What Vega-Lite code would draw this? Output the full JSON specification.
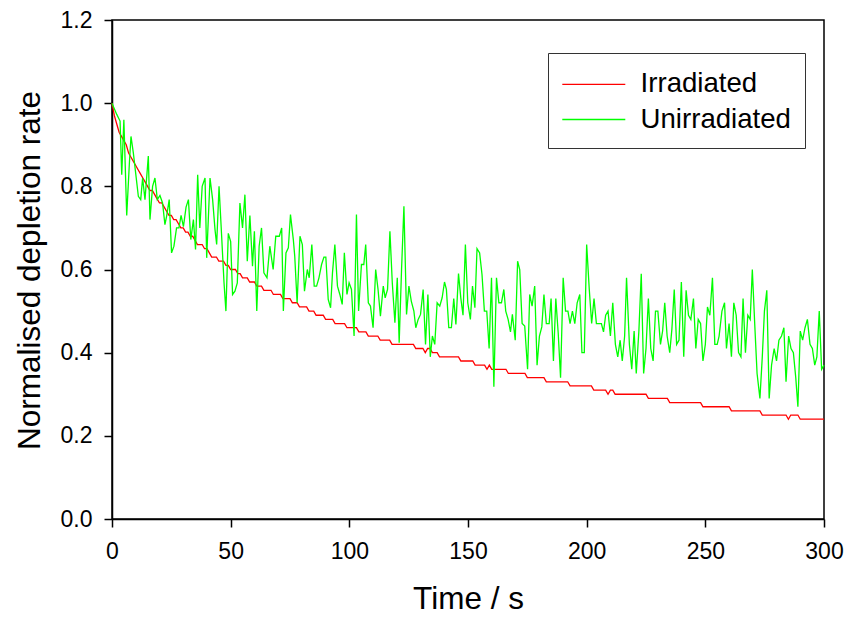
{
  "$schema": "https://vega.github.io/schema/vega-lite/v6.json",
  "autosize": {"type": "none"},
  "padding": {"left": 112, "top": 20, "right": 25, "bottom": 98},
  "width": 712,
  "height": 499,
  "background": "white",
  "config": {
    "view": {"stroke": "black", "strokeWidth": 1.5},
    "axis": {
      "domainColor": "black", "domainWidth": 1.5,
      "tickColor": "black", "tickWidth": 1.5, "tickSize": 8,
      "labelFont": "Liberation Sans", "labelFontSize": 23, "labelColor": "black",
      "titleFont": "Liberation Sans", "titleFontSize": 31.5, "titleFontWeight": "normal", "titleColor": "black",
      "grid": false
    },
    "legend": {
      "orient": "none", "legendX": 436, "legendY": 33,
      "strokeColor": "#333333", "fillColor": "white", "padding": 14,
      "symbolType": "M-1.286,0H4.714", "symbolSize": 441, "symbolStrokeWidth": 1.3,
      "labelFont": "Liberation Sans", "labelFontSize": 27.6, "labelColor": "black",
      "labelOffset": 51, "rowPadding": 6.1,
      "titleFontSize": 1, "titlePadding": 2.6, "titleColor": "white"
    }
  },
  "datasets": {
    "irradiated": [
      {"t":0,"v":1.00},{"t":1,"v":0.97},{"t":2,"v":0.95},{"t":3,"v":0.93},{"t":4,"v":0.92},{"t":5,"v":0.91},{"t":6,"v":0.90},{"t":7,"v":0.88},{"t":8,"v":0.87},{"t":9,"v":0.86},{"t":10,"v":0.85},{"t":11,"v":0.84},{"t":12,"v":0.83},{"t":13,"v":0.82},{"t":14,"v":0.81},{"t":15,"v":0.80},{"t":16,"v":0.79},{"t":17,"v":0.79},{"t":18,"v":0.78},{"t":19,"v":0.77},{"t":20,"v":0.76},{"t":21,"v":0.76},{"t":22,"v":0.75},{"t":23,"v":0.74},{"t":24,"v":0.73},{"t":25,"v":0.73},{"t":26,"v":0.72},{"t":27,"v":0.72},{"t":28,"v":0.71},{"t":29,"v":0.70},{"t":30,"v":0.70},{"t":31,"v":0.69},{"t":32,"v":0.69},{"t":33,"v":0.68},{"t":34,"v":0.68},{"t":35,"v":0.67},{"t":36,"v":0.66},{"t":38,"v":0.66},{"t":39,"v":0.65},{"t":40,"v":0.65},{"t":41,"v":0.64},{"t":42,"v":0.63},{"t":44,"v":0.63},{"t":45,"v":0.62},{"t":47,"v":0.62},{"t":48,"v":0.61},{"t":49,"v":0.61},{"t":50,"v":0.60},{"t":52,"v":0.60},{"t":53,"v":0.59},{"t":54,"v":0.59},{"t":55,"v":0.58},{"t":57,"v":0.58},{"t":58,"v":0.57},{"t":60,"v":0.57},{"t":61,"v":0.56},{"t":63,"v":0.56},{"t":64,"v":0.55},{"t":67,"v":0.55},{"t":68,"v":0.54},{"t":71,"v":0.54},{"t":72,"v":0.53},{"t":75,"v":0.53},{"t":76,"v":0.52},{"t":78,"v":0.52},{"t":79,"v":0.51},{"t":82,"v":0.51},{"t":83,"v":0.50},{"t":85,"v":0.50},{"t":86,"v":0.49},{"t":89,"v":0.49},{"t":90,"v":0.48},{"t":93,"v":0.48},{"t":94,"v":0.47},{"t":98,"v":0.47},{"t":99,"v":0.46},{"t":103,"v":0.46},{"t":104,"v":0.45},{"t":107,"v":0.45},{"t":108,"v":0.44},{"t":112,"v":0.44},{"t":113,"v":0.43},{"t":117,"v":0.43},{"t":118,"v":0.42},{"t":127,"v":0.42},{"t":128,"v":0.41},{"t":131,"v":0.41},{"t":132,"v":0.40},{"t":133,"v":0.41},{"t":134,"v":0.41},{"t":135,"v":0.40},{"t":137,"v":0.40},{"t":138,"v":0.39},{"t":146,"v":0.39},{"t":147,"v":0.38},{"t":152,"v":0.38},{"t":153,"v":0.37},{"t":157,"v":0.37},{"t":158,"v":0.36},{"t":159,"v":0.37},{"t":160,"v":0.36},{"t":166,"v":0.36},{"t":167,"v":0.35},{"t":174,"v":0.35},{"t":175,"v":0.34},{"t":182,"v":0.34},{"t":183,"v":0.33},{"t":192,"v":0.33},{"t":193,"v":0.32},{"t":202,"v":0.32},{"t":203,"v":0.31},{"t":208,"v":0.31},{"t":209,"v":0.30},{"t":210,"v":0.31},{"t":211,"v":0.31},{"t":212,"v":0.30},{"t":225,"v":0.30},{"t":226,"v":0.29},{"t":234,"v":0.29},{"t":235,"v":0.28},{"t":248,"v":0.28},{"t":249,"v":0.27},{"t":260,"v":0.27},{"t":261,"v":0.26},{"t":273,"v":0.26},{"t":274,"v":0.25},{"t":284,"v":0.25},{"t":285,"v":0.24},{"t":286,"v":0.25},{"t":289,"v":0.25},{"t":290,"v":0.24},{"t":300,"v":0.24}
    ],
    "unirradiated": [
      {"t":0,"v":1.0},{"t":2,"v":0.973},{"t":3.4,"v":0.957},{"t":4.1,"v":0.828},{"t":5,"v":0.96},{"t":6.2,"v":0.73},{"t":7.3,"v":0.853},{"t":8,"v":0.92},{"t":9,"v":0.88},{"t":11.1,"v":0.776},{"t":12.1,"v":0.768},{"t":12.9,"v":0.82},{"t":13.9,"v":0.768},{"t":15.3,"v":0.873},{"t":16,"v":0.72},{"t":17.1,"v":0.8},{"t":18.1,"v":0.82},{"t":19.1,"v":0.768},{"t":20.2,"v":0.778},{"t":21.3,"v":0.76},{"t":22.3,"v":0.708},{"t":23,"v":0.728},{"t":24.1,"v":0.768},{"t":25.1,"v":0.64},{"t":26.1,"v":0.656},{"t":27.2,"v":0.7},{"t":28.2,"v":0.7},{"t":29.1,"v":0.73},{"t":30.1,"v":0.703},{"t":31.2,"v":0.75},{"t":32.2,"v":0.768},{"t":33.2,"v":0.672},{"t":34.3,"v":0.72},{"t":35.2,"v":0.648},{"t":36.1,"v":0.828},{"t":37,"v":0.7},{"t":38,"v":0.8},{"t":39.2,"v":0.82},{"t":39.9,"v":0.628},{"t":41.3,"v":0.82},{"t":42.4,"v":0.768},{"t":43.4,"v":0.696},{"t":44.1,"v":0.66},{"t":45.1,"v":0.8},{"t":46.2,"v":0.68},{"t":47.2,"v":0.568},{"t":48,"v":0.5},{"t":49,"v":0.687},{"t":50,"v":0.667},{"t":50.8,"v":0.54},{"t":51.8,"v":0.548},{"t":52.8,"v":0.568},{"t":53.9,"v":0.76},{"t":55,"v":0.7},{"t":56,"v":0.78},{"t":57,"v":0.62},{"t":58.1,"v":0.73},{"t":59.2,"v":0.608},{"t":60,"v":0.692},{"t":61,"v":0.5},{"t":62,"v":0.656},{"t":63,"v":0.7},{"t":64,"v":0.592},{"t":65.3,"v":0.58},{"t":66.5,"v":0.656},{"t":67.9,"v":0.6},{"t":69,"v":0.68},{"t":70.5,"v":0.68},{"t":71.5,"v":0.7},{"t":72.2,"v":0.5},{"t":73.3,"v":0.64},{"t":74.3,"v":0.652},{"t":75.2,"v":0.732},{"t":76.4,"v":0.672},{"t":77,"v":0.632},{"t":78,"v":0.52},{"t":79.2,"v":0.68},{"t":80.2,"v":0.66},{"t":81.1,"v":0.548},{"t":82.3,"v":0.6},{"t":83.1,"v":0.58},{"t":84.2,"v":0.66},{"t":85.2,"v":0.56},{"t":86.2,"v":0.56},{"t":87.2,"v":0.58},{"t":88.3,"v":0.612},{"t":89.3,"v":0.63},{"t":90.1,"v":0.63},{"t":91.1,"v":0.528},{"t":92.1,"v":0.508},{"t":92.9,"v":0.592},{"t":93.9,"v":0.66},{"t":95,"v":0.56},{"t":96,"v":0.54},{"t":97,"v":0.516},{"t":97.9,"v":0.64},{"t":99,"v":0.54},{"t":99.9,"v":0.568},{"t":100.9,"v":0.552},{"t":102,"v":0.44},{"t":103,"v":0.732},{"t":103.9,"v":0.5},{"t":105.1,"v":0.612},{"t":106.1,"v":0.612},{"t":106.9,"v":0.66},{"t":108,"v":0.52},{"t":108.9,"v":0.512},{"t":110,"v":0.46},{"t":111.1,"v":0.6},{"t":112.1,"v":0.552},{"t":113.1,"v":0.488},{"t":114.3,"v":0.56},{"t":115.1,"v":0.532},{"t":116.1,"v":0.552},{"t":117.1,"v":0.692},{"t":118.1,"v":0.568},{"t":119.2,"v":0.472},{"t":120.2,"v":0.58},{"t":121,"v":0.424},{"t":122,"v":0.6},{"t":123,"v":0.752},{"t":124.1,"v":0.492},{"t":125.1,"v":0.56},{"t":126.1,"v":0.524},{"t":127.2,"v":0.5},{"t":128,"v":0.46},{"t":129,"v":0.48},{"t":130,"v":0.492},{"t":131.1,"v":0.552},{"t":132.1,"v":0.42},{"t":133.1,"v":0.54},{"t":134.1,"v":0.39},{"t":135,"v":0.44},{"t":136,"v":0.42},{"t":137,"v":0.52},{"t":138.1,"v":0.512},{"t":139.1,"v":0.532},{"t":140.1,"v":0.57},{"t":140.9,"v":0.552},{"t":141.9,"v":0.46},{"t":143,"v":0.46},{"t":144,"v":0.53},{"t":144.9,"v":0.468},{"t":146,"v":0.59},{"t":147,"v":0.53},{"t":147.9,"v":0.49},{"t":148.9,"v":0.66},{"t":149.9,"v":0.52},{"t":151,"v":0.48},{"t":151.9,"v":0.56},{"t":152.9,"v":0.508},{"t":153.8,"v":0.65},{"t":154.9,"v":0.64},{"t":155.9,"v":0.588},{"t":156.9,"v":0.5},{"t":157.9,"v":0.5},{"t":158.9,"v":0.41},{"t":159.9,"v":0.58},{"t":160.9,"v":0.318},{"t":162,"v":0.58},{"t":163,"v":0.52},{"t":164.1,"v":0.52},{"t":165.1,"v":0.552},{"t":165.9,"v":0.5},{"t":166.9,"v":0.48},{"t":167.9,"v":0.45},{"t":168.7,"v":0.492},{"t":169.9,"v":0.43},{"t":170.9,"v":0.62},{"t":171.8,"v":0.6},{"t":172.8,"v":0.47},{"t":173.9,"v":0.464},{"t":175.1,"v":0.36},{"t":176,"v":0.54},{"t":177,"v":0.512},{"t":178.1,"v":0.56},{"t":179.1,"v":0.37},{"t":180.1,"v":0.44},{"t":181.1,"v":0.462},{"t":182,"v":0.54},{"t":183,"v":0.47},{"t":184.2,"v":0.47},{"t":185,"v":0.53},{"t":186,"v":0.38},{"t":187,"v":0.53},{"t":188,"v":0.448},{"t":189,"v":0.34},{"t":190.1,"v":0.58},{"t":191.1,"v":0.5},{"t":192.1,"v":0.5},{"t":193,"v":0.47},{"t":194,"v":0.5},{"t":195,"v":0.47},{"t":196,"v":0.52},{"t":197.1,"v":0.54},{"t":198,"v":0.4},{"t":199,"v":0.4},{"t":200,"v":0.66},{"t":201.1,"v":0.552},{"t":202.1,"v":0.47},{"t":203.1,"v":0.53},{"t":204.1,"v":0.47},{"t":205.1,"v":0.47},{"t":206.2,"v":0.47},{"t":207.1,"v":0.45},{"t":208,"v":0.49},{"t":209,"v":0.5},{"t":210,"v":0.44},{"t":211,"v":0.52},{"t":212.1,"v":0.42},{"t":213.1,"v":0.39},{"t":214.1,"v":0.43},{"t":215,"v":0.38},{"t":216,"v":0.44},{"t":216.8,"v":0.58},{"t":218,"v":0.42},{"t":219,"v":0.36},{"t":220,"v":0.452},{"t":220.9,"v":0.35},{"t":222,"v":0.452},{"t":223,"v":0.59},{"t":224,"v":0.35},{"t":225,"v":0.41},{"t":226,"v":0.53},{"t":227,"v":0.41},{"t":228,"v":0.38},{"t":229,"v":0.5},{"t":230,"v":0.5},{"t":231.1,"v":0.42},{"t":232,"v":0.452},{"t":232.9,"v":0.52},{"t":233.9,"v":0.44},{"t":235,"v":0.40},{"t":235.9,"v":0.456},{"t":236.9,"v":0.552},{"t":237.9,"v":0.42},{"t":238.9,"v":0.43},{"t":239.9,"v":0.57},{"t":240.9,"v":0.39},{"t":241.9,"v":0.55},{"t":242.9,"v":0.49},{"t":243.9,"v":0.48},{"t":245,"v":0.53},{"t":246,"v":0.41},{"t":247,"v":0.48},{"t":248,"v":0.47},{"t":249,"v":0.38},{"t":250,"v":0.42},{"t":250.9,"v":0.51},{"t":251.9,"v":0.49},{"t":253,"v":0.58},{"t":254,"v":0.42},{"t":255,"v":0.42},{"t":255.8,"v":0.44},{"t":257,"v":0.5},{"t":258.1,"v":0.52},{"t":258.9,"v":0.41},{"t":260,"v":0.47},{"t":261,"v":0.39},{"t":262,"v":0.52},{"t":263,"v":0.49},{"t":264,"v":0.40},{"t":265,"v":0.39},{"t":265.9,"v":0.53},{"t":266.9,"v":0.40},{"t":267.9,"v":0.49},{"t":268.9,"v":0.48},{"t":269.8,"v":0.6},{"t":270.8,"v":0.47},{"t":271.8,"v":0.35},{"t":273,"v":0.29},{"t":274,"v":0.39},{"t":274.9,"v":0.5},{"t":275.9,"v":0.55},{"t":276.9,"v":0.29},{"t":277.9,"v":0.37},{"t":279,"v":0.41},{"t":280,"v":0.38},{"t":281,"v":0.43},{"t":282.1,"v":0.44},{"t":283.1,"v":0.46},{"t":284,"v":0.33},{"t":285.1,"v":0.44},{"t":286.1,"v":0.41},{"t":287.1,"v":0.40},{"t":288.1,"v":0.34},{"t":289,"v":0.27},{"t":290,"v":0.452},{"t":291,"v":0.43},{"t":292,"v":0.46},{"t":293,"v":0.48},{"t":294.1,"v":0.42},{"t":295.1,"v":0.41},{"t":296.1,"v":0.37},{"t":297,"v":0.39},{"t":298,"v":0.5},{"t":299,"v":0.36},{"t":300,"v":0.37}
    ]
  },
  "encoding": {
    "x": {
      "field": "t", "type": "quantitative",
      "scale": {"domain": [0, 300], "nice": false},
      "axis": {"values": [0, 50, 100, 150, 200, 250, 300], "labelFlush": false, "labelPadding": 13,
               "title": "Time / s", "titleX": 356, "titleY": 80, "titleBaseline": "middle", "titleAlign": "center"}
    },
    "y": {
      "field": "v", "type": "quantitative",
      "scale": {"domain": [0, 1.2], "nice": false},
      "axis": {"values": [0, 0.2, 0.4, 0.6, 0.8, 1.0, 1.2], "format": ".1f", "labelFlush": false, "labelPadding": 12,
               "title": "Normalised depletion rate", "titleX": -82, "titleY": 250, "titleAngle": -90,
               "titleBaseline": "middle", "titleAlign": "center"}
    }
  },
  "layer": [
    {
      "data": {"name": "irradiated"},
      "mark": {"type": "line", "strokeWidth": 1.3},
      "encoding": {
        "color": {"datum": "Irradiated", "type": "nominal",
                  "scale": {"domain": ["Irradiated", "Unirradiated"], "range": ["#ff0000", "#00ff00"]},
                  "legend": {"title": " "}}
      }
    },
    {
      "data": {"name": "unirradiated"},
      "mark": {"type": "line", "strokeWidth": 1.3},
      "encoding": {
        "color": {"datum": "Unirradiated", "type": "nominal"}
      }
    }
  ]
}
